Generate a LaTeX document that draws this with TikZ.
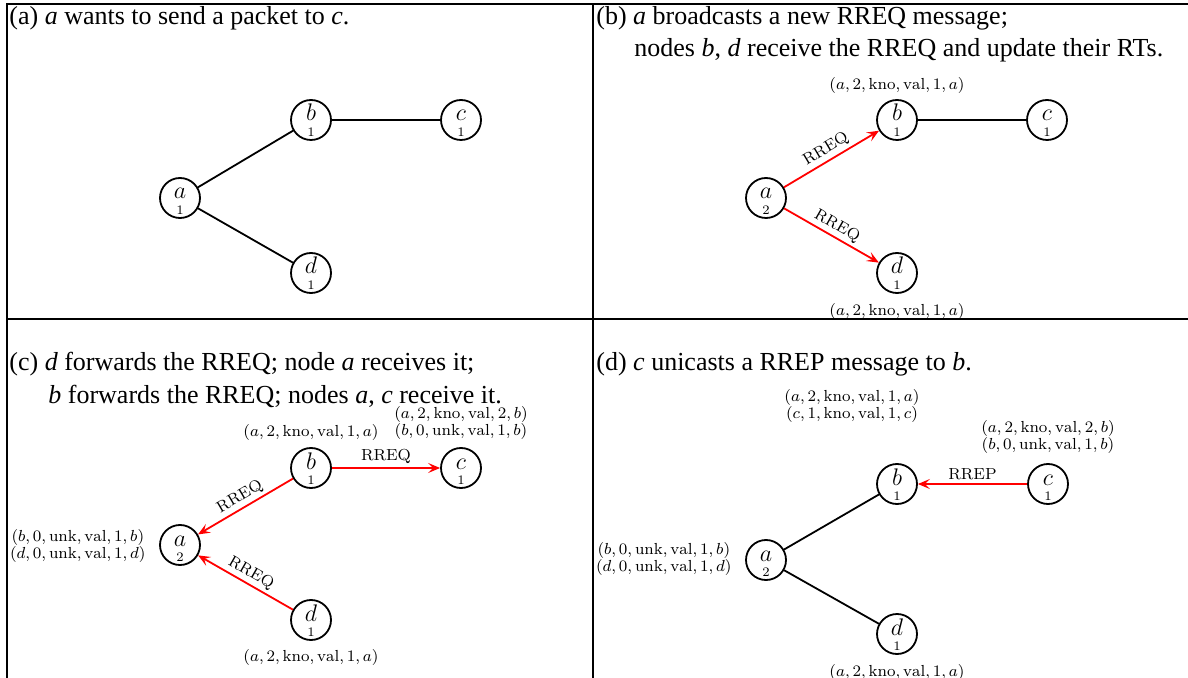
\documentclass[tikz,border=0pt]{standalone}
\usepackage{fontspec}
\newfontfamily\capfont{Liberation Serif}
\usetikzlibrary{arrows.meta}

\tikzset{
  host/.style={circle, draw, line width=0.9pt, minimum size=20pt, inner sep=0pt},
  link/.style={line width=0.9pt},
  msg/.style={line width=0.9pt, red, -{Stealth[length=6pt,width=5pt,inset=2.5pt]}},
  tag/.style={font=\fontsize{8}{8}\selectfont, text=black, sloped, above, inner sep=1.5pt},
  rt/.style={font=\fontsize{8}{8.2}\selectfont, align=center, inner sep=0pt},
  caption/.style={font=\capfont\fontsize{13}{16}\selectfont, anchor=base west, inner sep=0pt},
  grid/.style={line width=0.9pt}
}
% letter and hop count inside a host
\newcommand{\hostlbl}[2]{\makebox[0pt]{\raisebox{-0.5pt}[0pt][0pt]{\fontsize{13}{13}\selectfont$#1$}}%
  \makebox[0pt]{\raisebox{-8.2pt}[0pt][0pt]{\fontsize{6.5}{6.5}\selectfont #2}}}

\begin{document}
\begin{tikzpicture}[x=0.5pt, y=-0.5pt]
    \useasboundingbox (0,0) rectangle (1188,678);
    \draw[grid] (7,678) -- (7,4) -- (1188,4);
    \draw[grid] (593,4) -- (593,678);
    \draw[grid] (7,319) -- (1188,319);

    % (a)
    \node[caption] (cap-a) at (9,25) {(a) \textit{a} wants to send a packet to \textit{c}.};
    \node[host] (a1) at (180,198) {\hostlbl{a}{1}};
    \node[host] (b1) at (311,120) {\hostlbl{b}{1}};
    \node[host] (c1) at (461,120) {\hostlbl{c}{1}};
    \node[host] (d1) at (311,273) {\hostlbl{d}{1}};
    \draw[link] (a1) -- (b1);
    \draw[link] (b1) -- (c1);
    \draw[link] (a1) -- (d1);

    % (b)
    \node[caption] (cap-b1) at (596,25) {(b) \textit{a} broadcasts a new RREQ message;};
    \node[caption] (cap-b2) at (634,57) {nodes \textit{b}, \textit{d} receive the RREQ and update their RTs.};
    \node[host] (a2) at (766,198) {\hostlbl{a}{2}};
    \node[host] (b2) at (897,120) {\hostlbl{b}{1}};
    \node[host] (c2) at (1047,120) {\hostlbl{c}{1}};
    \node[host] (d2) at (897,273) {\hostlbl{d}{1}};
    \draw[msg] (a2) -- node[tag] {RREQ} (b2);
    \draw[msg] (a2) -- node[tag] {RREQ} (d2);
    \draw[link] (b2) -- (c2);
    \node[rt] (rt-b2) at (897,86) {$(a,2,\mathrm{kno},\mathrm{val},1,a)$};
    \node[rt] (rt-d2) at (897,312) {$(a,2,\mathrm{kno},\mathrm{val},1,a)$};

    % (c)
    \node[caption] (cap-c1) at (9,371) {(c) \textit{d} forwards the RREQ; node \textit{a} receives it;};
    \node[caption] (cap-c2) at (48,403) {\textit{b} forwards the RREQ; nodes \textit{a}, \textit{c} receive it.};
    \node[host] (a3) at (180,545) {\hostlbl{a}{2}};
    \node[host] (b3) at (311,468) {\hostlbl{b}{1}};
    \node[host] (c3) at (461,468) {\hostlbl{c}{1}};
    \node[host] (d3) at (311,620) {\hostlbl{d}{1}};
    \draw[msg] (b3) -- node[tag] {RREQ} (a3);
    \draw[msg] (d3) -- node[tag] {RREQ} (a3);
    \draw[msg] (b3) -- node[tag] {RREQ} (c3);
    \node[rt] (rt-b3) at (311,433) {$(a,2,\mathrm{kno},\mathrm{val},1,a)$};
    \node[rt] (rt-c3) at (461,423) {$(a,2,\mathrm{kno},\mathrm{val},2,b)$\\$(b,0,\mathrm{unk},\mathrm{val},1,b)$};
    \node[rt, anchor=east] (rt-a3) at (146,546) {$(b,0,\mathrm{unk},\mathrm{val},1,b)$\\$(d,0,\mathrm{unk},\mathrm{val},1,d)$};
    \node[rt] (rt-d3) at (311,657) {$(a,2,\mathrm{kno},\mathrm{val},1,a)$};

    % (d)
    \node[caption] (cap-d) at (596,371) {(d) \textit{c} unicasts a RREP message to \textit{b}.};
    \node[host] (a4) at (766,560) {\hostlbl{a}{2}};
    \node[host] (b4) at (897,484) {\hostlbl{b}{1}};
    \node[host] (c4) at (1048,484) {\hostlbl{c}{1}};
    \node[host] (d4) at (897,634) {\hostlbl{d}{1}};
    \draw[link] (a4) -- (b4);
    \draw[link] (a4) -- (d4);
    \draw[msg] (c4) -- node[tag] {RREP} (b4);
    \node[rt] (rt-b4) at (852,406) {$(a,2,\mathrm{kno},\mathrm{val},1,a)$\\$(c,1,\mathrm{kno},\mathrm{val},1,c)$};
    \node[rt] (rt-c4) at (1048,437) {$(a,2,\mathrm{kno},\mathrm{val},2,b)$\\$(b,0,\mathrm{unk},\mathrm{val},1,b)$};
    \node[rt, anchor=east] (rt-a4) at (732,559) {$(b,0,\mathrm{unk},\mathrm{val},1,b)$\\$(d,0,\mathrm{unk},\mathrm{val},1,d)$};
    \node[rt] (rt-d4) at (897,672) {$(a,2,\mathrm{kno},\mathrm{val},1,a)$};
\end{tikzpicture}
\end{document}
